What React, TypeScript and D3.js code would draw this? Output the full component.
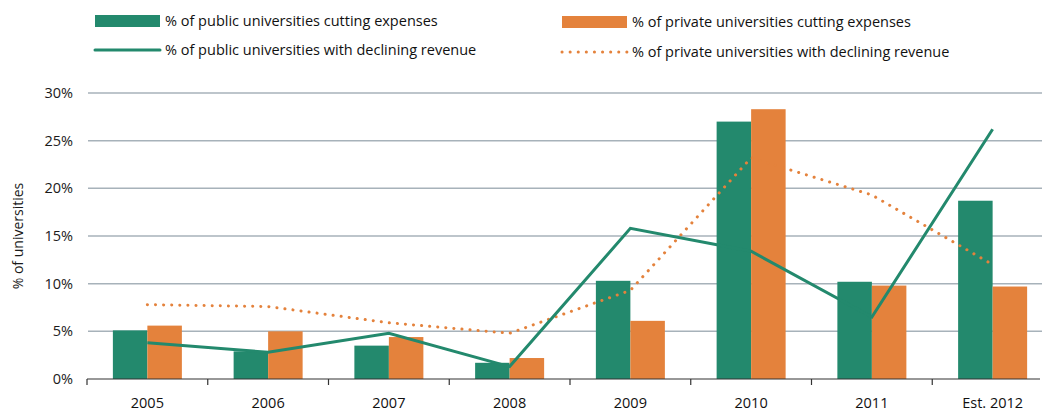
import React, { useRef, useEffect } from "react";
import * as d3 from "d3";

// Data
const years = ["2005", "2006", "2007", "2008", "2009", "2010", "2011", "Est. 2012"];
const publicCutting = [5.1, 2.9, 3.5, 1.7, 10.3, 27.0, 10.2, 18.7];
const privateCutting = [5.6, 5.0, 4.4, 2.2, 6.1, 28.3, 9.8, 9.7];
const publicDeclining = [3.8, 2.8, 4.8, 1.3, 15.8, 13.4, 6.5, 26.2];
const privateDeclining = [7.8, 7.6, 5.9, 4.8, 9.3, 23.2, 19.3, 12.0];
const yTicks = [0, 5, 10, 15, 20, 25, 30];

const GREEN = "#23896d";
const ORANGE = "#e4823c";
const FONT = "'Open Sans', 'Noto Sans', sans-serif";

const App: React.FC = () => {
  const svgRef = useRef<SVGSVGElement | null>(null);

  useEffect(() => {
    if (!svgRef.current) return;
    const width = 1042;
    const height = 414;
    const svg = d3.select(svgRef.current).attr("width", width).attr("height", height);
    svg.selectAll("*").remove();

    // Scales
    const x = d3.scaleBand().domain(years).range([87, 1053]).paddingInner(0).paddingOuter(0);
    const inner = d3
      .scaleBand()
      .domain(["public", "private"])
      .range([0, x.bandwidth()])
      .paddingOuter(0.75)
      .paddingInner(0);
    const y = d3.scaleLinear().domain([0, 30]).range([379, 93]);
    const cx = (d: string) => x(d)! + x.bandwidth() / 2;

    // Gridlines
    svg
      .append("g")
      .attr("class", "grid")
      .selectAll("line")
      .data(yTicks.filter((t) => t > 0))
      .enter()
      .append("line")
      .attr("x1", 88)
      .attr("x2", width)
      .attr("y1", (d) => y(d))
      .attr("y2", (d) => y(d))
      .attr("stroke", "#a7b2ba")
      .attr("stroke-width", 1.5);

    // Y tick labels
    svg
      .append("g")
      .attr("class", "y-labels")
      .selectAll("text")
      .data(yTicks)
      .enter()
      .append("text")
      .attr("x", 73)
      .attr("y", (d) => y(d))
      .attr("dy", "0.35em")
      .attr("text-anchor", "end")
      .style("font-family", FONT)
      .style("font-size", "14.5px")
      .attr("fill", "#1a1a1a")
      .text((d) => `${d}%`);

    // Y title
    svg
      .append("text")
      .attr("transform", `translate(23,${236}) rotate(-90)`)
      .attr("text-anchor", "middle")
      .style("font-family", FONT)
      .style("font-size", "14px")
      .attr("fill", "#1a1a1a")
      .text("% of universities");

    // Bars
    const bars = svg.append("g").attr("class", "bars");
    bars
      .selectAll(".pub")
      .data(years)
      .enter()
      .append("rect")
      .attr("x", (d) => x(d)! + inner("public")!)
      .attr("y", (_d, i) => y(publicCutting[i]))
      .attr("width", inner.bandwidth())
      .attr("height", (_d, i) => y(0) - y(publicCutting[i]))
      .attr("fill", GREEN);
    bars
      .selectAll(".priv")
      .data(years)
      .enter()
      .append("rect")
      .attr("x", (d) => x(d)! + inner("private")!)
      .attr("y", (_d, i) => y(privateCutting[i]))
      .attr("width", inner.bandwidth())
      .attr("height", (_d, i) => y(0) - y(privateCutting[i]))
      .attr("fill", ORANGE);

    // X axis
    const axis = svg.append("g").attr("class", "x-axis");
    axis
      .append("line")
      .attr("x1", 87)
      .attr("x2", 1040)
      .attr("y1", y(0))
      .attr("y2", y(0))
      .attr("stroke", "#333")
      .attr("stroke-width", 1.2);
    axis
      .selectAll(".tick")
      .data(years)
      .enter()
      .append("line")
      .attr("x1", (d) => x(d)!)
      .attr("x2", (d) => x(d)!)
      .attr("y1", y(0))
      .attr("y2", y(0) + 6)
      .attr("stroke", "#333")
      .attr("stroke-width", 1.2);
    axis
      .selectAll("text")
      .data(years)
      .enter()
      .append("text")
      .attr("x", (d) => cx(d))
      .attr("y", 408)
      .attr("text-anchor", "middle")
      .style("font-family", FONT)
      .style("font-size", "14.5px")
      .style("font-weight", 500)
      .attr("fill", "#111")
      .text((d) => d);

    // Lines
    const line = d3
      .line<number>()
      .x((_d, i) => cx(years[i]))
      .y((d) => y(d));
    svg
      .append("path")
      .datum(privateDeclining)
      .attr("d", line)
      .attr("fill", "none")
      .attr("stroke", ORANGE)
      .attr("stroke-width", 3)
      .attr("stroke-linecap", "round")
      .attr("stroke-dasharray", "0.1 8");
    svg
      .append("path")
      .datum(publicDeclining)
      .attr("d", line)
      .attr("fill", "none")
      .attr("stroke", GREEN)
      .attr("stroke-width", 3);

    // Legend
    const legend = svg.append("g").attr("class", "legend");
    const items = [
      { x: 95, y: 21, label: "% of public universities cutting expenses", kind: "bar", color: GREEN },
      { x: 562, y: 22, label: "% of private universities cutting expenses", kind: "bar", color: ORANGE },
      { x: 95, y: 50, label: "% of public universities with declining revenue", kind: "line", color: GREEN },
      { x: 562, y: 52, label: "% of private universities with declining revenue", kind: "dot", color: ORANGE },
    ];
    items.forEach((it) => {
      if (it.kind === "bar") {
        legend
          .append("rect")
          .attr("x", it.x)
          .attr("y", it.y - 6)
          .attr("width", 65)
          .attr("height", 12)
          .attr("fill", it.color);
      } else {
        legend
          .append("line")
          .attr("x1", it.x)
          .attr("x2", it.x + 65)
          .attr("y1", it.y)
          .attr("y2", it.y)
          .attr("stroke", it.color)
          .attr("stroke-width", it.kind === "line" ? 3 : 3)
          .attr("stroke-linecap", "round")
          .attr("stroke-dasharray", it.kind === "line" ? null : "0.1 8");
      }
      legend
        .append("text")
        .attr("x", it.x + 70)
        .attr("y", it.y)
        .attr("dy", "0.35em")
        .style("font-family", FONT)
        .style("font-size", "14.5px")
        .attr("fill", "#111")
        .text(it.label);
    });
  }, []);

  return <svg ref={svgRef} style={{ position: "absolute", left: 0, top: 0 }} />;
};

export default App;
